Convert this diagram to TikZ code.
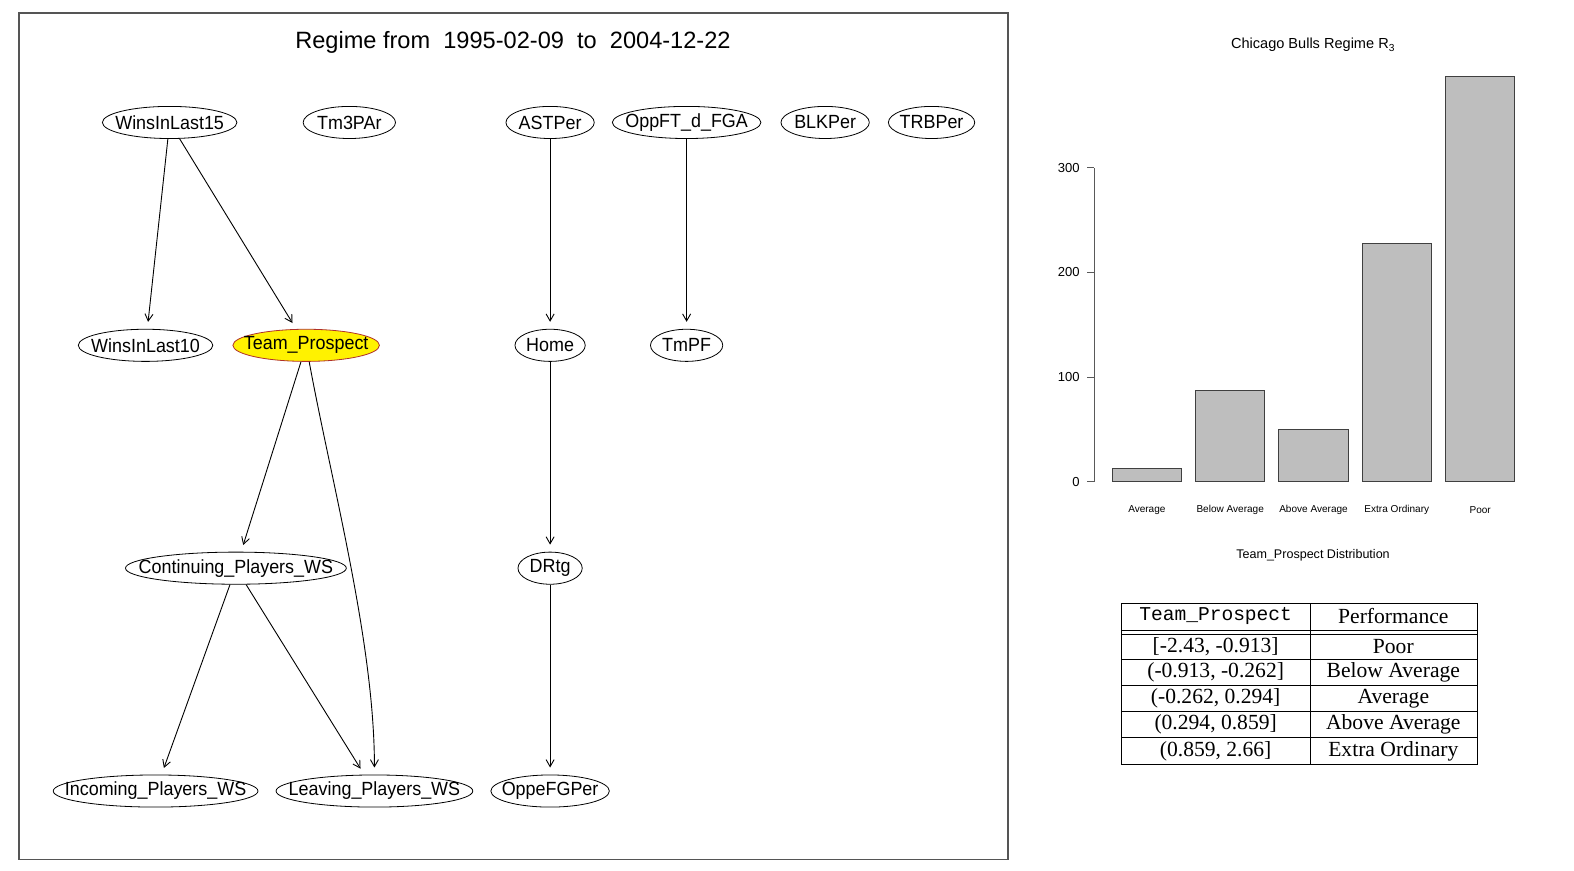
\documentclass[tikz,border=0pt]{standalone}
\usepackage{fontspec}
\setsansfont{Liberation Sans}
\newfontfamily\codefont{Liberation Mono}
\newfontfamily\tablefont{Liberation Serif}
\usetikzlibrary{arrows.meta,shapes.geometric}
\definecolor{bargray}{HTML}{BEBEBE}
\definecolor{framegray}{HTML}{555555}
\definecolor{prospectred}{HTML}{B0302A}
\newcommand{\vname}[1]{\makebox[0pt]{\scalebox{0.94}[1]{#1}}}

\begin{document}
\begin{tikzpicture}[x=1pt, y=-1pt,
  var/.style={ellipse, draw, inner sep=0pt, minimum height=32pt, line width=0.8pt,
              font=\sffamily\fontsize{19}{21}\selectfont},
  edge/.style={-{Straight Barb[length=7pt,width=8pt]}, line width=0.9pt, shorten >=7pt},
  bar/.style={draw=black!75, fill=bargray, line width=0.8pt},
  ticklbl/.style={font=\sffamily\fontsize{13}{15}\selectfont, anchor=east},
  barlbl/.style={font=\sffamily\fontsize{10}{12}\selectfont},
  cell/.style={font=\tablefont\fontsize{21.5}{23}\selectfont}]
  \useasboundingbox (0,0) rectangle (1568,867);
  % left panel: network of the regime
  \draw[framegray, line width=1.5pt] (19,13) rectangle (1004,856);
  \node[font=\sffamily\fontsize{23.5}{25}\selectfont] (title) at (511,42)
    {Regime from\ \ 1995-02-09\ \ to\ \ 2004-12-22};
  \node[var, minimum width=134pt] (w15) at (169,122) {\vname{WinsInLast15}};
  \node[var, minimum width=92pt] (tm3) at (348,122) {\vname{Tm3PAr}};
  \node[var, minimum width=88pt] (ast) at (548,122) {\vname{ASTPer}};
  \node[var, minimum width=148pt] (oppft) at (684,122) {\vname{OppFT\_d\_FGA}};
  \node[var, minimum width=88pt] (blk) at (822,122) {\vname{BLKPer}};
  \node[var, minimum width=86pt] (trb) at (928,122) {\vname{TRBPer}};
  \node[var, minimum width=134pt] (w10) at (145,344) {\vname{WinsInLast10}};
  \node[var, minimum width=146pt, fill=yellow, draw=prospectred] (tp) at (305,344) {\vname{Team\_Prospect}};
  \node[var, minimum width=70pt] (home) at (548,344) {\vname{Home}};
  \node[var, minimum width=72pt] (tmpf) at (684,344) {\vname{TmPF}};
  \node[var, minimum width=220pt] (cont) at (235,566) {\vname{Continuing\_Players\_WS}};
  \node[var, minimum width=64pt] (drtg) at (548,566) {\vname{DRtg}};
  \node[var, minimum width=204pt] (inc) at (155,788) {\vname{Incoming\_Players\_WS}};
  \node[var, minimum width=196pt] (leave) at (373,788) {\vname{Leaving\_Players\_WS}};
  \node[var, minimum width=118pt] (oppe) at (548,788) {\vname{OppeFGPer}};
  \draw[edge] (w15) -- (w10);
  \draw[edge] (w15) -- (tp);
  \draw[edge] (ast) -- (home);
  \draw[edge] (oppft) -- (tmpf);
  \draw[edge] (tp) -- (cont);
  \draw[edge] (tp) .. controls (330,480) and (373,640) .. (leave);
  \draw[edge] (home) -- (drtg);
  \draw[edge] (cont) -- (inc);
  \draw[edge] (cont) -- (leave);
  \draw[edge] (drtg) -- (oppe);
  % right panel: bar chart
  \node[font=\sffamily\fontsize{14.5}{16}\selectfont] (charttitle) at (1308,45)
    {Chicago Bulls Regime R\textsubscript{3}};
  \begin{scope}[yshift=-480pt, y=1.0433pt]
    \draw[black!65, line width=0.8pt] (1090,0) -- (1090,300);
    \foreach \v in {0,100,200,300} {
      \draw[black!65, line width=0.8pt] (1083,\v) -- (1090,\v);
      \node[ticklbl] (tick\v) at (1079,\v) {\v};
    }
    \foreach \lab/\val [count=\i] in {Average/13, Below Average/87, Above Average/50,
                                     Extra Ordinary/228, Poor/387} {
      \draw[bar] (1025+83*\i,0) rectangle ++(69,\val);
      \node[barlbl] (bar\i) at (1059.5+83*\i,-27) {\lab};
    }
  \end{scope}
  \node[font=\sffamily\fontsize{12.5}{14}\selectfont] (xlabel) at (1308,553) {Team\_Prospect Distribution};
  % table of the categories
  \draw[line width=0.8pt] (1117,601) rectangle (1472,761);
  \draw[line width=0.8pt] (1305,601) -- (1305,761);
  \foreach \y in {628,632,657,683,709,735}
    \draw[line width=0.8pt] (1117,\y) -- (1472,\y);
  \node[font=\codefont\fontsize{19.5}{22}\selectfont] (hdrange) at (1211,614) {Team\_Prospect};
  \node[cell] (hdperf) at (1388,614) {Performance};
  \node[cell] (rg1) at (1211,644) {[-2.43, -0.913]};
  \node[cell] (pf1) at (1388,644) {Poor};
  \node[cell] (rg2) at (1211,670) {(-0.913, -0.262]};
  \node[cell] (pf2) at (1388,670) {Below Average};
  \node[cell] (rg3) at (1211,696) {(-0.262, 0.294]};
  \node[cell] (pf3) at (1388,696) {Average};
  \node[cell] (rg4) at (1211,722) {(0.294, 0.859]};
  \node[cell] (pf4) at (1388,722) {Above Average};
  \node[cell] (rg5) at (1211,748) {(0.859, 2.66]};
  \node[cell] (pf5) at (1388,748) {Extra Ordinary};
\end{tikzpicture}
\end{document}
